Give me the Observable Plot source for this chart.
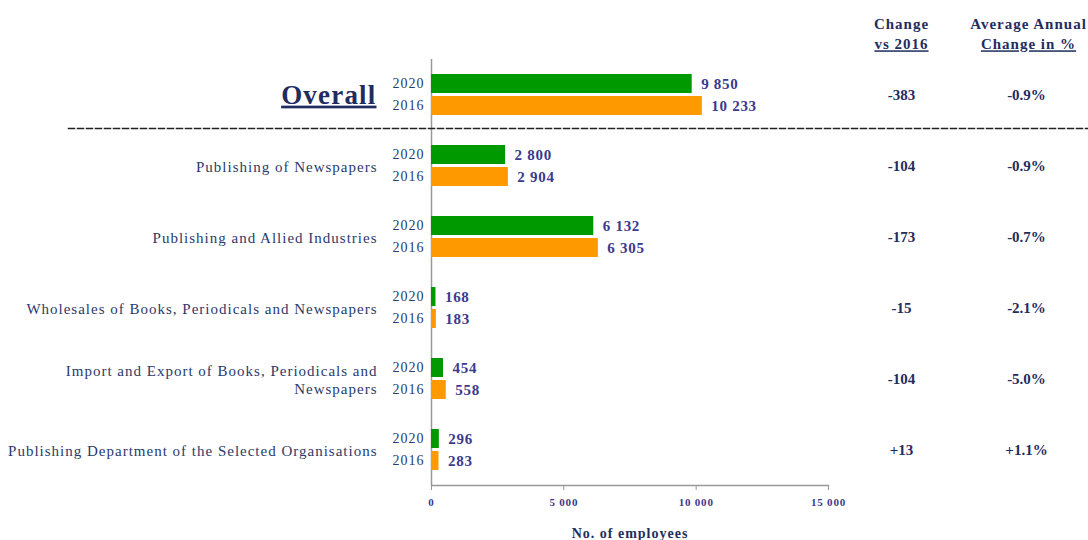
<!DOCTYPE html>
<html><head><meta charset="utf-8">
<script src="https://cdn.jsdelivr.net/npm/d3@7"></script>
<script src="https://cdn.jsdelivr.net/npm/@observablehq/plot@0.6"></script>
<style>
body{margin:0;background:#fff;}
#chart svg{display:block;}
.cat text{letter-spacing:1px;}
.yr text{letter-spacing:1px;}
.vals text{letter-spacing:0.7px;}
.overall text{letter-spacing:1.2px;text-decoration:underline;text-decoration-thickness:2px;}
.hdr text{letter-spacing:1px;}
.hdru text{letter-spacing:1px;text-decoration:underline;text-decoration-thickness:2px;}
.xt text{letter-spacing:0.8px;}
</style></head><body><div id="chart"></div>
<script>
const categories = [
  "Overall",
  "Publishing of Newspapers",
  "Publishing and Allied Industries",
  "Wholesales of Books, Periodicals and Newspapers",
  "Import and Export of Books, Periodicals and\nNewspapers",
  "Publishing Department of the Selected Organisations"
];
const years = ["2020", "2016"];
const values2020 = [9850, 2800, 6132, 168, 454, 296];
const values2016 = [10233, 2904, 6305, 183, 558, 283];
const changeVs2016 = ["-383", "-104", "-173", "-15", "-104", "+13"];
const annualChange = ["-0.9%", "-0.9%", "-0.7%", "-2.1%", "-5.0%", "+1.1%"];
const headerChange = ["Change", "vs 2016"];
const headerAnnual = ["Average Annual", "Change in %"];
const xTicks = [0, 5000, 10000, 15000];
const xTitle = "No. of employees";

const rows = categories.flatMap((c, i) => [
  {cat: c, year: years[0], value: values2020[i]},
  {cat: c, year: years[1], value: values2016[i]}
]);
const summary = categories.map((c, i) => ({cat: c, change: changeVs2016[i], annual: annualChange[i]}));
const fmt = d3.formatLocale({decimal: ".", thousands: " ", grouping: [3]}).format(",");

const navy = "#1F2D5E";
const catCol = "#2B3A6B";
const valCol = "#3A3A8E";
const firstRow = summary.slice(0, 1);
const colText = {frameAnchor: "right", textAnchor: "middle", fontSize: 15, fontWeight: "bold", fill: navy};
const hdrText = {fy: "cat", frameAnchor: "top-right", textAnchor: "middle", lineAnchor: "middle", fontSize: 15, fontWeight: "bold", fill: navy};

const chart = Plot.plot({
  width: 1088, height: 540,
  marginLeft: 431, marginRight: 260, marginTop: 57, marginBottom: 54,
  style: {fontFamily: "'Liberation Serif', 'Times New Roman', serif", background: "#fff"},
  x: {domain: [0, 15000]},
  y: {domain: years, paddingInner: 0.13, paddingOuter: 0.62, label: null},
  fy: {domain: categories, padding: 0, axis: null, label: null},
  color: {domain: years, range: ["#009900", "#FF9900"]},
  marks: [
    Plot.ruleX([0], {stroke: "#999", strokeWidth: 1.5}),
    Plot.frame({anchor: "bottom", stroke: "#999", strokeWidth: 1.5, facetAnchor: "bottom"}),
    Plot.frame({anchor: "bottom", stroke: "#222", strokeWidth: 1.5, strokeDasharray: "6,3", facetAnchor: "top", insetLeft: -363, insetRight: -260, insetBottom: 2}),
    Plot.barX(rows, {x: "value", y: "year", fy: "cat", fill: "year"}),
    Plot.text(rows, {x: "value", y: "year", fy: "cat", text: d => fmt(d.value), textAnchor: "start", dx: 9, fill: valCol, fontWeight: "bold", fontSize: 15, className: "vals"}),
    Plot.axisY({tickSize: 0, tickPadding: 7, fontSize: 14, fill: catCol, label: null, className: "yr"}),
    Plot.axisX({ticks: xTicks, tickFormat: fmt, tickSize: 5, stroke: "#999", fill: valCol, fontWeight: "bold", fontSize: 11, tickPadding: 8, label: null, className: "xt"}),
    Plot.text([xTitle], {frameAnchor: "bottom", dy: 52, fontSize: 14, fontWeight: "bold", fill: navy, facetAnchor: "bottom", className: "hdr"}),
    Plot.text(summary.slice(1), {fy: "cat", text: "cat", frameAnchor: "left", textAnchor: "end", dx: -54, fontSize: 15, fill: catCol, lineHeight: 1.2, className: "cat"}),
    Plot.text(firstRow, {fy: "cat", text: "cat", frameAnchor: "left", textAnchor: "end", dx: -55, fontSize: 27, fontWeight: "bold", fill: navy, className: "overall"}),
    Plot.text(summary, {...colText, fy: "cat", text: "change", dx: 73}),
    Plot.text(summary, {...colText, fy: "cat", text: "annual", dx: 198}),
    Plot.text(firstRow, {...hdrText, text: () => headerChange[0], dx: 73, dy: -35, className: "hdr"}),
    Plot.text(firstRow, {...hdrText, text: () => headerChange[1], dx: 73, dy: -15, className: "hdru"}),
    Plot.text(firstRow, {...hdrText, text: () => headerAnnual[0], dx: 200, dy: -35, className: "hdr"}),
    Plot.text(firstRow, {...hdrText, text: () => headerAnnual[1], dx: 200, dy: -15, className: "hdru"})
  ]
});
document.getElementById("chart").append(chart);
</script></body></html>
